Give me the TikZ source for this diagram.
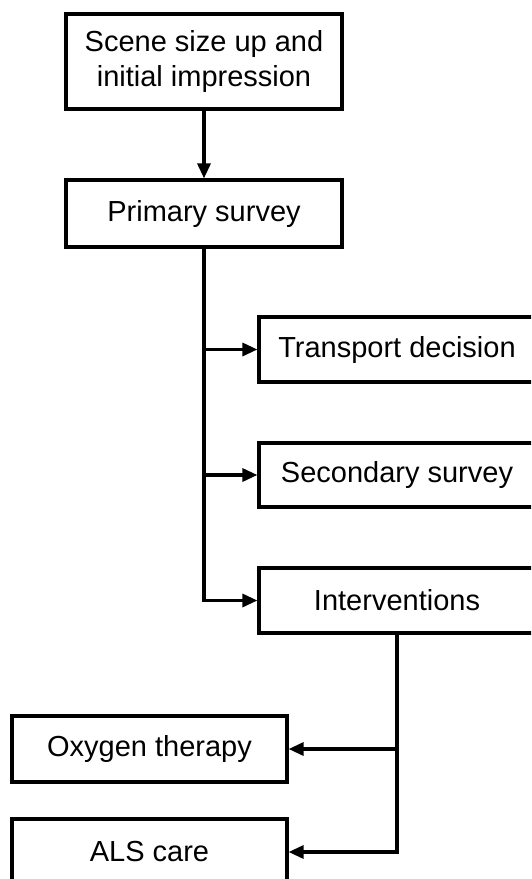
\documentclass[tikz,border=0pt]{standalone}
\usepackage{fontspec}
\setmainfont{Liberation Sans}
\usetikzlibrary{arrows.meta}
\begin{document}
\begin{tikzpicture}[x=1pt,y=-1pt,
  box/.style={draw, line width=3.2pt, minimum width=276pt, inner sep=0pt,
    align=center, font=\fontsize{29}{35}\selectfont},
  link/.style={line width=3.2pt, -{Triangle[length=15pt,width=13pt]}}]
  \clip (0,0) rectangle (531,879);
  \node[box, minimum height=95pt] (scene) at (204,61.5) {Scene size up and\\initial impression};
  \node[box, minimum height=67pt] (primary) at (204,213.5) {Primary survey};
  \node[box, minimum height=65pt] (transport) at (397,349.5) {Transport decision};
  \node[box, minimum height=64pt] (secondary) at (397,475) {Secondary survey};
  \node[box, minimum height=65pt] (interv) at (397,600.5) {Interventions};
  \node[box, minimum height=66pt, minimum width=275pt] (oxygen) at (149.5,749) {Oxygen therapy};
  \node[box, minimum height=66pt, minimum width=275pt] (als) at (149.5,852) {ALS care};
  \draw[link] (scene) -- (primary);
  \draw[link] (primary.south) |- (transport.west);
  \draw[link] (primary.south) |- (secondary.west);
  \draw[link] (primary.south) |- (interv.west);
  \draw[link] (interv.south) |- (oxygen.east);
  \draw[link] (interv.south) |- (als.east);
\end{tikzpicture}
\end{document}
